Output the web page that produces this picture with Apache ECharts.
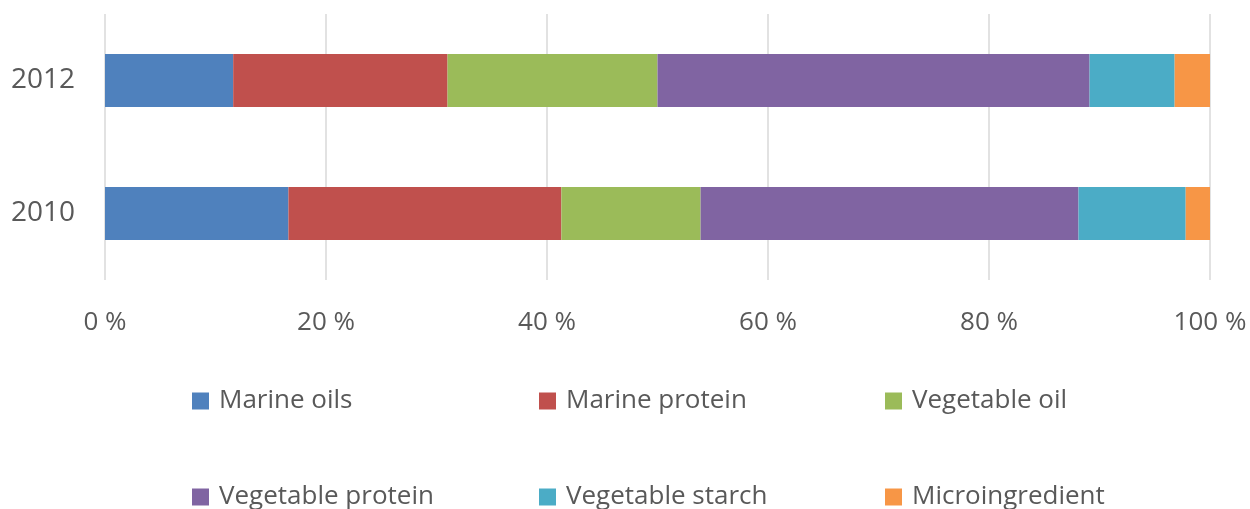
<!DOCTYPE html>
<html>
<head>
<meta charset="utf-8">
<script src="https://cdn.jsdelivr.net/npm/echarts@6/dist/echarts.min.js"></script>
<style>
  html, body { margin: 0; padding: 0; background: #fff; }
  #chart { width: 1250px; height: 509px; }
</style>
</head>
<body>
<div id="chart"></div>
<script>
// 数据
const years = ['2010', '2012'];
const seriesNames = ['Marine oils', 'Marine protein', 'Vegetable oil', 'Vegetable protein', 'Vegetable starch', 'Microingredient'];
const marineOils = [16.6, 11.6];
const marineProtein = [24.7, 19.4];
const vegetableOil = [12.6, 19.0];
const vegetableProtein = [34.2, 39.1];
const vegetableStarch = [9.7, 7.7];
const microingredient = [2.2, 3.2];
const seriesValues = [marineOils, marineProtein, vegetableOil, vegetableProtein, vegetableStarch, microingredient];

const colors = ['#4f81bd', '#c0504d', '#9bbb59', '#8064a2', '#4bacc6', '#f79646'];
const font = '"Open Sans", sans-serif';
const textColor = '#595959';

// 图例位置 (每个图例一项)
const legendLeft = [187, 534, 880];
const legendTop = [383, 479];

const legends = seriesNames.map((name, i) => ({
  data: [name],
  left: legendLeft[i % 3],
  top: legendTop[Math.floor(i / 3)],
  itemWidth: 17,
  itemHeight: 17,
  icon: 'rect',
  selectedMode: false,
  textStyle: {
    fontFamily: font,
    fontSize: 26,
    color: textColor,
    padding: [0, 0, 0, 5]
  }
}));

const chart = echarts.init(document.getElementById('chart'));
chart.setOption({
  backgroundColor: '#fff',
  animation: false,
  color: colors,
  legend: legends,
  grid: { left: 105, right: 40, top: 14, bottom: 229 },
  xAxis: {
    type: 'value',
    min: 0,
    max: 100,
    interval: 20,
    axisLine: { show: false },
    axisTick: { show: false },
    splitLine: { show: true, lineStyle: { color: '#d9d9d9', width: 1.5 } },
    axisLabel: {
      formatter: '{value} %',
      fontFamily: font,
      fontSize: 26,
      color: textColor,
      margin: 30
    }
  },
  yAxis: {
    type: 'category',
    data: years,
    axisLine: { show: false },
    axisTick: { show: false },
    axisLabel: {
      fontFamily: font,
      fontSize: 28,
      color: textColor,
      margin: 30
    }
  },
  series: seriesNames.map((name, i) => ({
    name: name,
    type: 'bar',
    stack: 'total',
    barWidth: '40%',
    data: seriesValues[i]
  }))
});
</script>
</body>
</html>
